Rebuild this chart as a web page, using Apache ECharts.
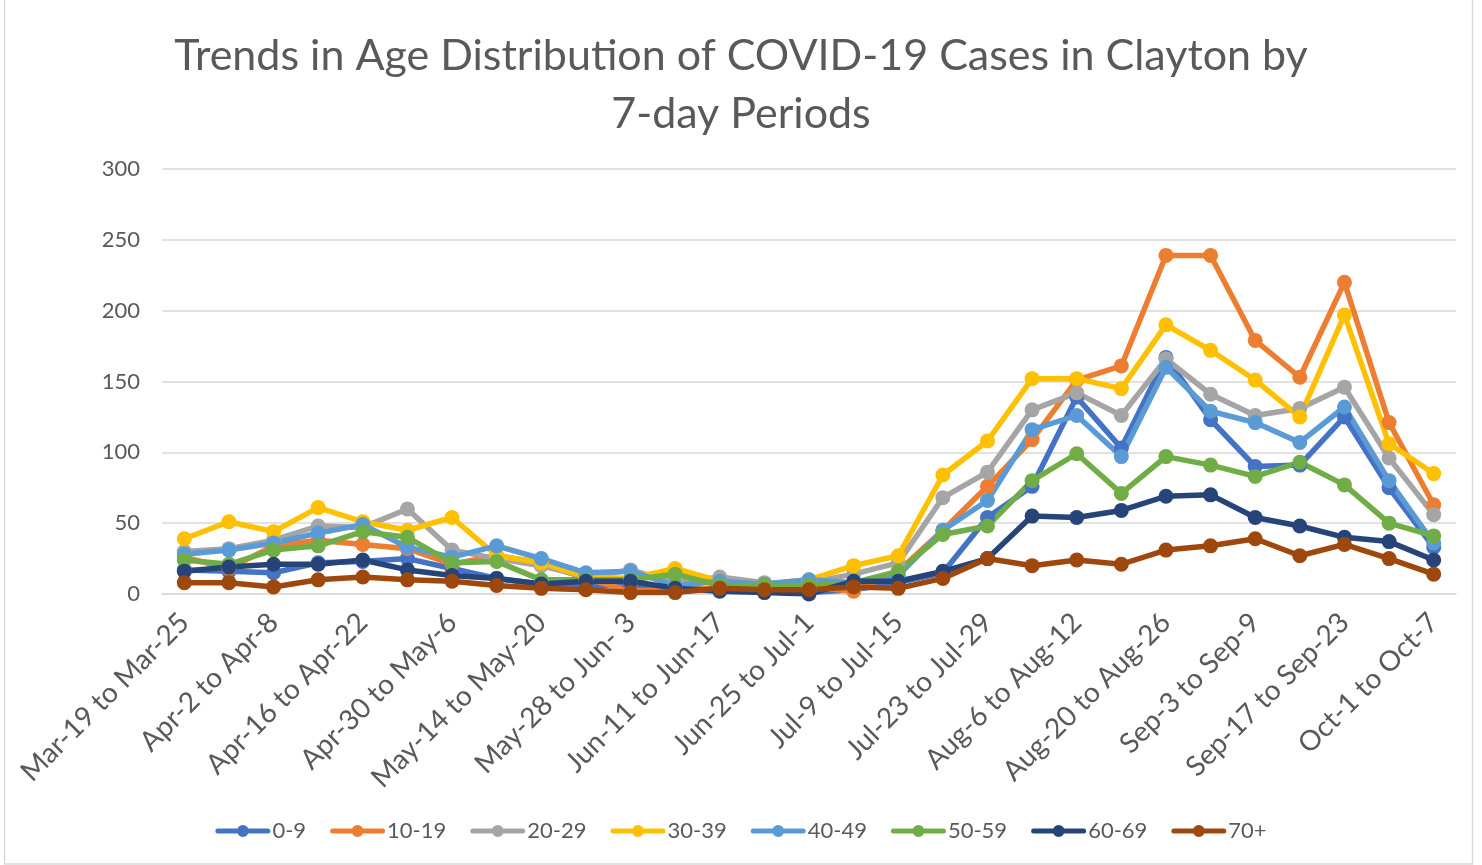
<!DOCTYPE html>
<html>
<head>
<meta charset="utf-8">
<script src="https://cdn.jsdelivr.net/npm/echarts@6/dist/echarts.min.js"></script>
<style>
  html, body { margin: 0; padding: 0; background: #fff; }
  #main { width: 1482px; height: 865px; }
</style>
</head>
<body>
<div id="main"></div>
<script>
// weekly periods
const periods = [
  'Mar-19 to Mar-25', 'Mar-26 to Apr-1', 'Apr-2 to Apr-8', 'Apr-9 to Apr-15',
  'Apr-16 to Apr-22', 'Apr-23 to Apr-29', 'Apr-30 to May-6', 'May-7 to May-13',
  'May-14 to May-20', 'May-21 to May-27', 'May-28 to Jun- 3', 'Jun-4 to Jun-10',
  'Jun-11 to Jun-17', 'Jun-18 to Jun-24', 'Jun-25 to Jul-1', 'Jul-2 to Jul-8',
  'Jul-9 to Jul-15', 'Jul-16 to Jul-22', 'Jul-23 to Jul-29', 'Jul-30 to Aug-5',
  'Aug-6 to Aug-12', 'Aug-13 to Aug-19', 'Aug-20 to Aug-26', 'Aug-27 to Sep-2',
  'Sep-3 to Sep-9', 'Sep-10 to Sep-16', 'Sep-17 to Sep-23', 'Sep-24 to Sep-30',
  'Oct-1 to Oct-7'
];

const age0to9   = [17, 16, 15, 22, 23, 25, 18, 11, 7, 6, 6, 5, 3, 2, 1, 3, 8, 15, 54, 76, 139, 103, 167, 123, 90, 91, 125, 75, 33];
const age10to19 = [26, 18, 34, 38, 35, 32, 21, 27, 22, 11, 2, 3, 4, 5, 5, 2, 16, 45, 76, 109, 151, 161, 239, 239, 179, 153, 220, 121, 63];
const age20to29 = [30, 32, 38, 48, 47, 60, 31, 25, 20, 12, 17, 8, 12, 8, 8, 14, 22, 68, 86, 130, 142, 126, 166, 141, 126, 131, 146, 96, 56];
const age30to39 = [39, 51, 44, 61, 51, 45, 54, 27, 22, 12, 11, 18, 9, 7, 10, 20, 27, 84, 108, 152, 152, 145, 190, 172, 151, 125, 197, 106, 85];
const age40to49 = [28, 31, 36, 43, 49, 33, 26, 34, 25, 15, 16, 6, 9, 7, 10, 8, 13, 45, 66, 116, 126, 97, 160, 129, 121, 107, 132, 80, 36];
const age50to59 = [24, 21, 31, 34, 44, 40, 22, 23, 10, 10, 10, 14, 6, 6, 6, 8, 16, 42, 48, 80, 99, 71, 97, 91, 83, 93, 77, 50, 41];
const age60to69 = [16, 19, 21, 21, 24, 17, 13, 11, 7, 9, 9, 4, 2, 1, 0, 9, 9, 16, 25, 55, 54, 59, 69, 70, 54, 48, 40, 37, 24];
const age70plus = [8, 8, 5, 10, 12, 10, 9, 6, 4, 3, 1, 1, 4, 3, 3, 5, 4, 11, 25, 20, 24, 21, 31, 34, 39, 27, 35, 25, 14];

const groups = ['0-9', '10-19', '20-29', '30-39', '40-49', '50-59', '60-69', '70+'];
const groupData = [age0to9, age10to19, age20to29, age30to39, age40to49, age50to59, age60to69, age70plus];
const colors = ['#4472C4', '#ED7D31', '#A5A5A5', '#FFC000', '#5B9BD5', '#70AD47', '#264478', '#9E480E'];

const font = 'Lato, "Open Sans", sans-serif';
const textColor = '#595959';
const titleStyle = { fontFamily: font, fontSize: 43, fontWeight: 'normal', color: textColor };

// legend icon: thick line with a dot in the middle
const legendIcon = 'path://M2.5,4 L52.5,4 A2.5,2.5 0 0 1 52.5,9 L2.5,9 A2.5,2.5 0 0 1 2.5,4 Z ' +
  'M21.5,6.5 A6,6 0 1 1 33.5,6.5 A6,6 0 1 1 21.5,6.5 Z';

let myChart = echarts.init(document.getElementById('main'));
myChart.setOption({
  animation: false,
  color: colors,
  title: [
    { text: 'Trends in Age Distribution of COVID-19 Cases in Clayton by', left: 'center', top: 30, textStyle: titleStyle },
    { text: '7-day Periods', left: 'center', top: 88, textStyle: titleStyle }
  ],
  grid: {
    left: 162,
    right: 26,
    top: 169,
    bottom: 271
  },
  legend: {
    top: 815,
    left: 'center',
    itemWidth: 55,
    itemHeight: 12,
    itemGap: 24,
    icon: legendIcon,
    textStyle: { fontFamily: font, fontSize: 22, color: textColor, padding: [0, 0, 0, -3] },
    data: groups
  },
  xAxis: {
    type: 'category',
    data: periods,
    boundaryGap: true,
    axisLine: { lineStyle: { color: '#D9D9D9', width: 1.5 } },
    axisTick: { show: false },
    axisLabel: {
      interval: 1,
      rotate: 45,
      margin: 24,
      fontFamily: font,
      fontSize: 28,
      color: textColor
    }
  },
  yAxis: {
    type: 'value',
    min: 0,
    max: 300,
    interval: 50,
    axisLine: { show: false },
    axisTick: { show: false },
    splitLine: { lineStyle: { color: '#D9D9D9', width: 1.5 } },
    axisLabel: {
      margin: 22,
      fontFamily: font,
      fontSize: 22,
      color: textColor
    }
  },
  graphic: [{
    type: 'rect',
    shape: { x: 4.5, y: -2, width: 1468, height: 866 },
    style: { fill: 'none', stroke: '#D9D9D9', lineWidth: 1.5 },
    silent: true
  }],
  series: groups.map((name, i) => ({
    name: name,
    type: 'line',
    data: groupData[i],
    symbol: 'circle',
    symbolSize: 15,
    lineStyle: { width: 5.5 },
    itemStyle: { color: colors[i] },
    emphasis: { disabled: true }
  }))
});
</script>
</body>
</html>
